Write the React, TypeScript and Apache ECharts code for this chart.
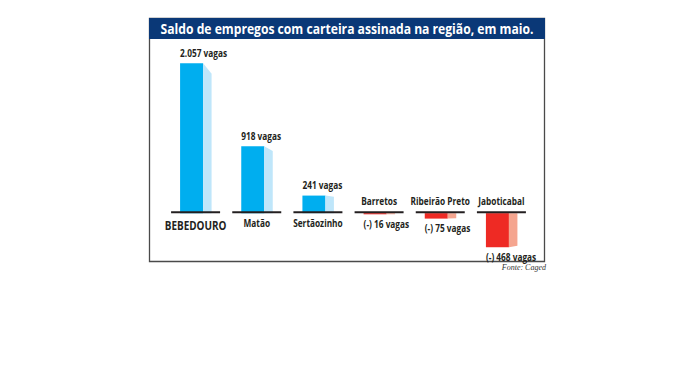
import React, { useEffect, useRef } from "react";
import * as echarts from "echarts";

const categories = ["BEBEDOURO", "Matão", "Sertãozinho", "Barretos", "Ribeirão Preto", "Jaboticabal"];
const values = [2057, 918, 241, -16, -75, -468];
const valueLabels = ["2.057 vagas", "918 vagas", "241 vagas", "(-) 16 vagas", "(-) 75 vagas", "(-) 468 vagas"];
const titleText = "Saldo de empregos com carteira assinada na região, em maio.";
const sourceText = "Fonte: Caged";

const FONT = "'Open Sans', Lato, sans-serif";

function measure(text: string, font: string): number {
  const c = document.createElement("canvas").getContext("2d");
  if (!c) return 0;
  c.font = font;
  return c.measureText(text).width;
}

export default function App() {
  const ref = useRef<HTMLDivElement>(null);
  useEffect(() => {
    const chart = echarts.init(ref.current!, null, { renderer: "svg" });
    const titleW = measure(titleText, `bold 14px ${FONT}`);
    const titleScale = titleW > 0 ? 373 / titleW : 1;
    const labW = measure("2.057 vagas", `bold 10px ${FONT}`);
    const k = labW > 0 ? 47 / labW : 1;

    const renderItem = (params: any, api: any) => {
      const i = api.value(0);
      const v = api.value(1);
      const base = api.coord([i, 0]);
      const top = api.coord([i, v]);
      const cx = base[0];
      const y0 = base[1];
      const y1 = top[1];
      const pos = v >= 0;
      const h = Math.abs(y1 - y0);
      const fl = cx - 15.5;
      const fr = cx + 7.5;
      const sr = cx + 16;
      const lineY = y0 - 1;
      const children: any[] = [];
      children.push({
        type: "rect",
        shape: { x: fl, y: Math.min(y0, y1), width: fr - fl, height: h },
        style: { fill: pos ? "#00aeef" : "#ee2a24" },
      });
      if (pos) {
        const drop = Math.min(11, h * 0.07);
        children.push({
          type: "polygon",
          shape: { points: [[fr, y1], [sr, y1 + drop], [sr, y0], [fr, y0]] },
          style: { fill: "#bfe6fa" },
        });
      } else {
        const drop = Math.min(1.5, h * 0.05);
        children.push({
          type: "polygon",
          shape: { points: [[fr, y0], [sr, y0], [sr, y1 - drop], [fr, y1]] },
          style: { fill: "#f5a58f" },
        });
      }
      children.push({
        type: "line",
        shape: { x1: cx - 24.5, y1: lineY, x2: cx + 24.5, y2: lineY },
        style: { stroke: "#231f20", lineWidth: 2 },
      });
      const isMain = i === 0;
      children.push({
        type: "text",
        x: cx,
        y: pos ? lineY + (isMain ? 12.5 : 11) : lineY - 11,
        scaleX: k,
        style: {
          text: categories[i],
          fill: "#231f20",
          font: `bold ${isMain ? 12 : 10}px ${FONT}`,
          align: "center",
          verticalAlign: "middle",
        },
      });
      children.push({
        type: "text",
        x: fl,
        y: pos ? y1 - 10 : y1 + 10,
        scaleX: k,
        style: {
          text: valueLabels[i],
          fill: "#231f20",
          font: `bold 10px ${FONT}`,
          align: "left",
          verticalAlign: "middle",
        },
      });
      return { type: "group", children };
    };

    chart.setOption({
      animation: false,
      backgroundColor: "#ffffff",
      grid: { left: 165, width: 367, top: 31, bottom: 91 },
      xAxis: { type: "category", data: categories, show: false },
      yAxis: { type: "value", min: -1000, max: 2500, show: false },
      graphic: [
        {
          type: "rect",
          shape: { x: 149.5, y: 18.5, width: 395, height: 243 },
          style: { fill: "none", stroke: "#4a4a4a", lineWidth: 1.3 },
          z: 0,
        },
        {
          type: "rect",
          shape: { x: 149, y: 18, width: 396, height: 21 },
          style: { fill: "#0a3877" },
          z: 1,
        },
        {
          type: "text",
          x: 347,
          y: 29,
          scaleX: titleScale,
          style: {
            text: titleText,
            fill: "#ffffff",
            font: `bold 14px ${FONT}`,
            align: "center",
            verticalAlign: "middle",
          },
          z: 2,
        },
        {
          type: "text",
          x: 546,
          y: 267,
          style: {
            text: sourceText,
            fill: "#333333",
            font: "italic 8px 'Liberation Serif', serif",
            align: "right",
            verticalAlign: "middle",
          },
          z: 2,
        },
      ],
      series: [
        {
          type: "custom",
          renderItem,
          data: values.map((v, i) => [i, v]),
          encode: { x: 0, y: 1 },
        },
      ],
    });
    return () => chart.dispose();
  }, []);
  return <div ref={ref} style={{ position: "fixed", left: 0, top: 0, width: 696, height: 377 }} />;
}
